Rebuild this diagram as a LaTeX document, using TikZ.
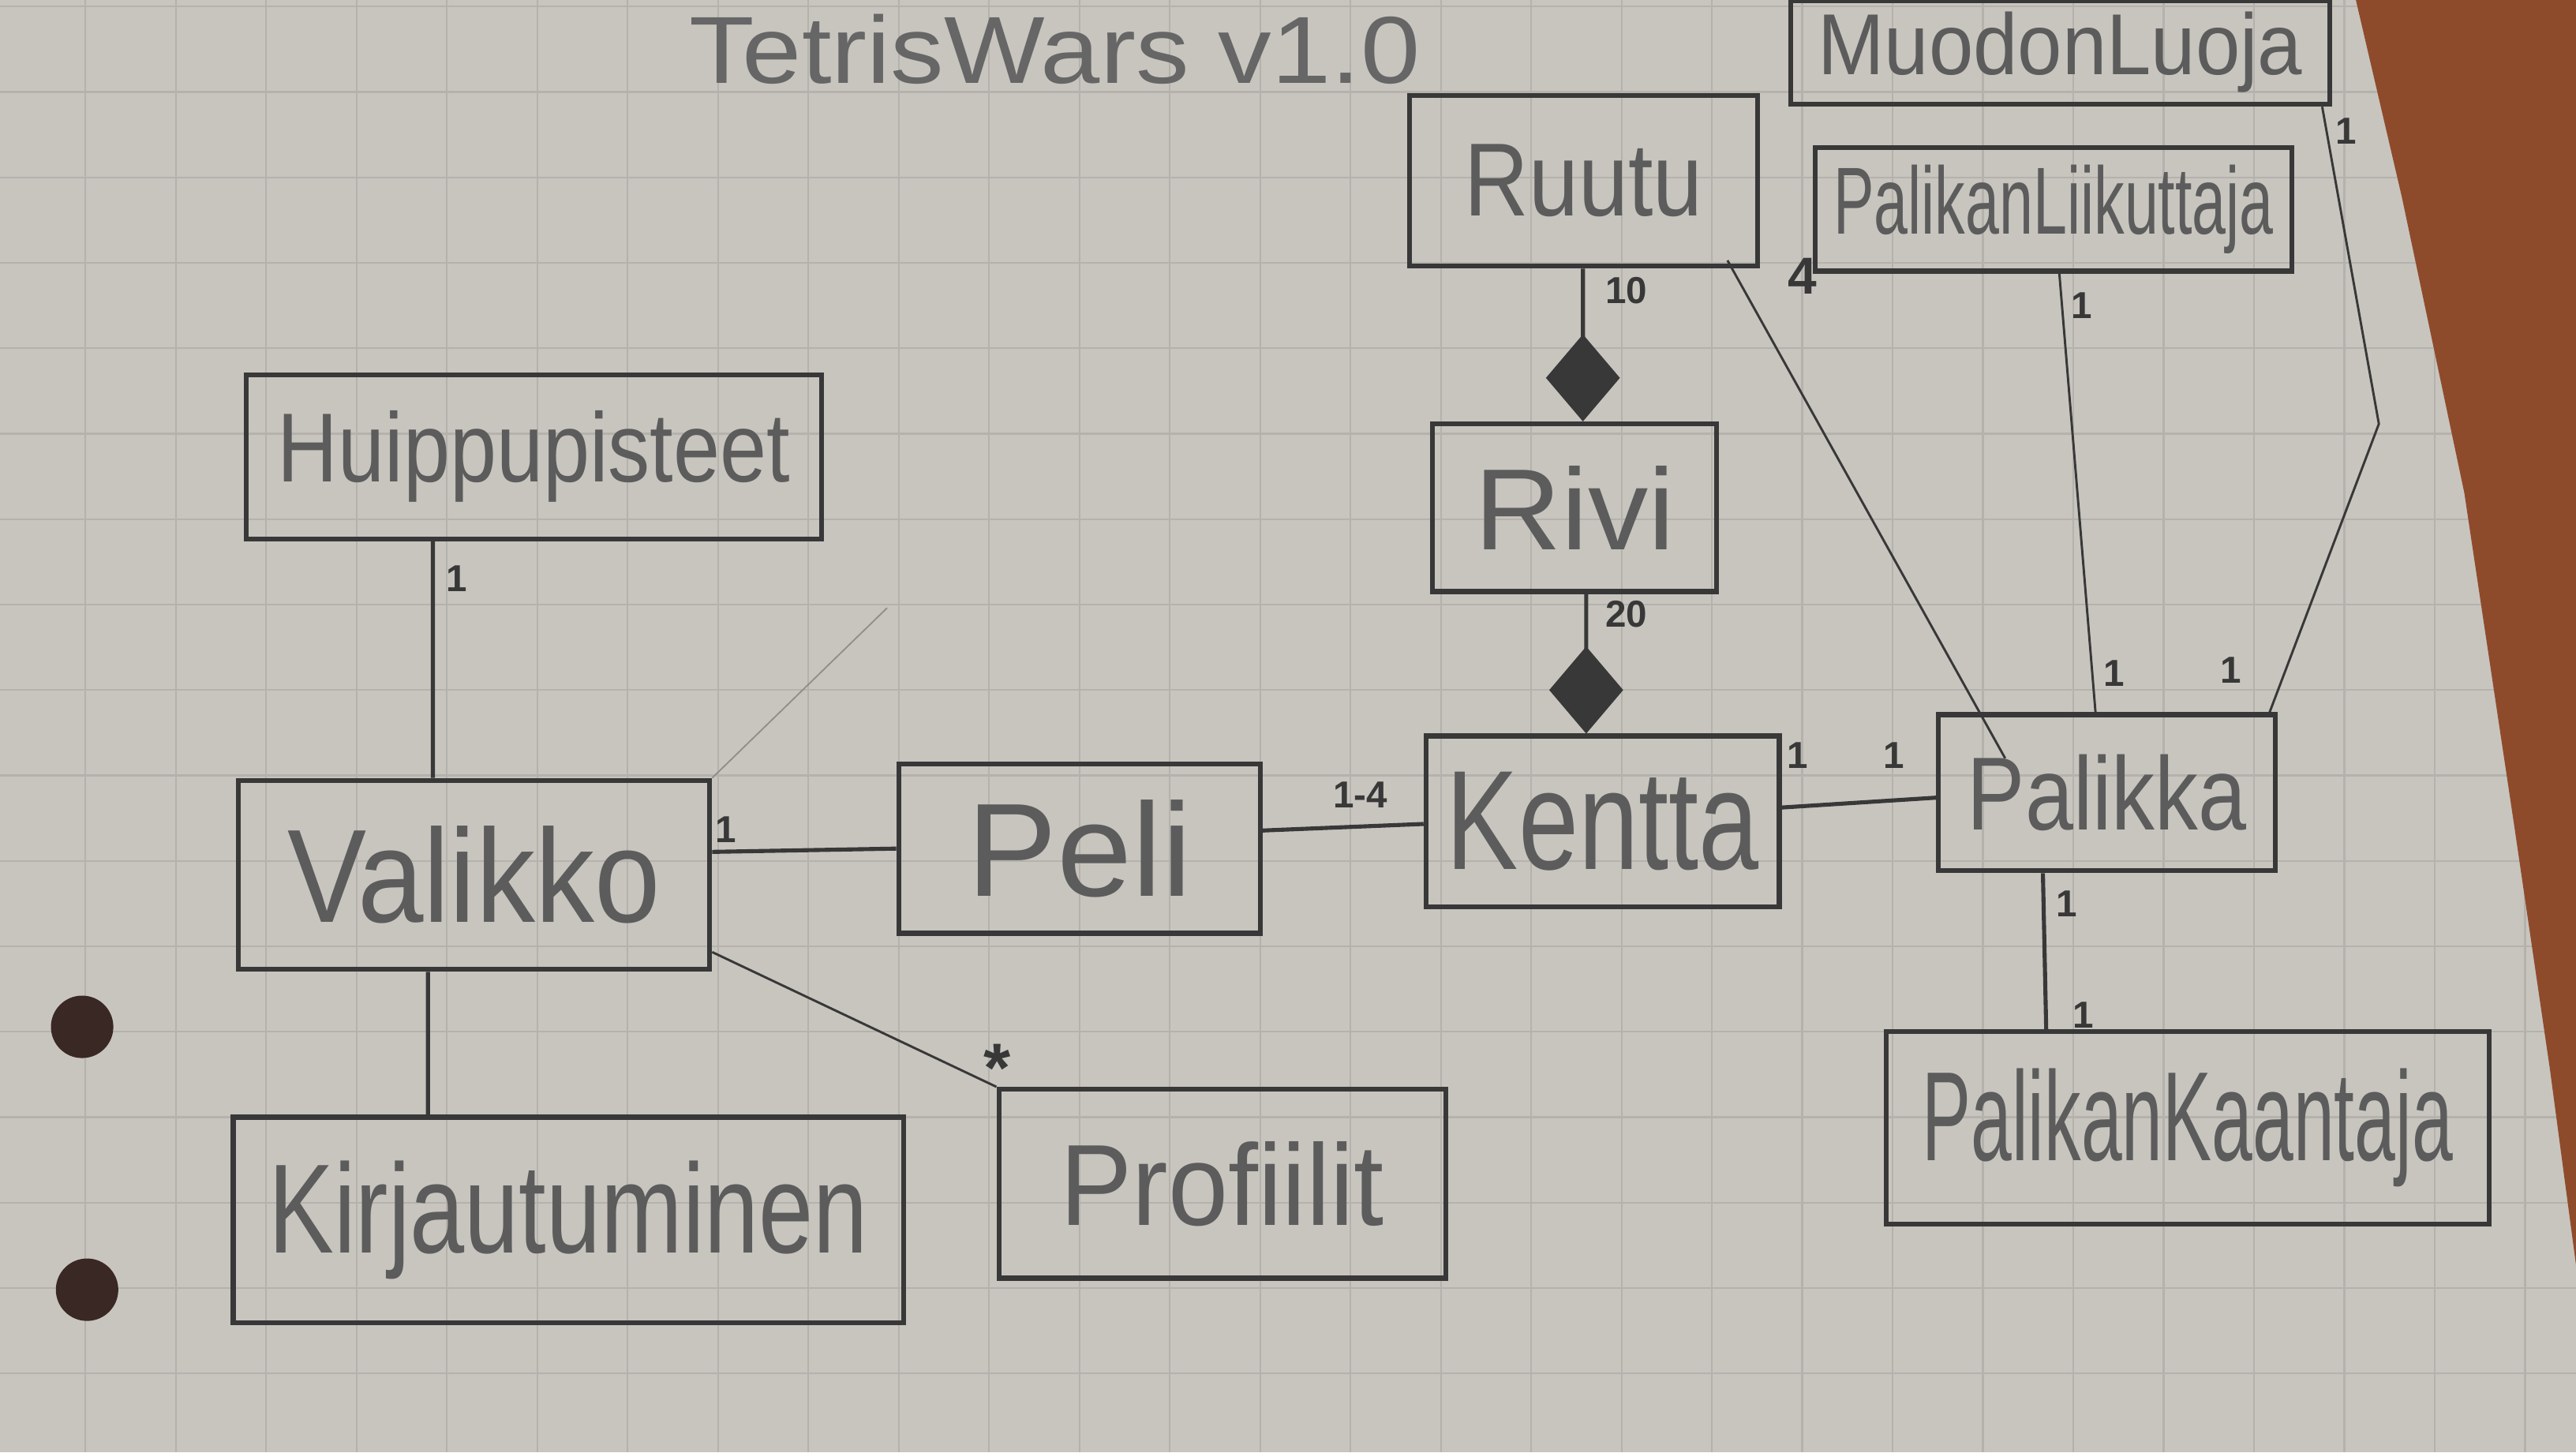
\documentclass[tikz,border=0pt]{standalone}
\usepackage{fontspec}
\setmainfont{Liberation Sans}
\usepackage{graphicx}
\usetikzlibrary{arrows.meta,calc}
\definecolor{paper}{HTML}{C8C5BF}
\definecolor{gridc}{HTML}{B5B2AD}
\definecolor{pencil}{HTML}{383838}
\definecolor{txtc}{HTML}{5C5C5C}
\definecolor{titlec}{HTML}{666666}
\definecolor{wood}{HTML}{8E4B2B}
\definecolor{hole}{HTML}{3A2824}
\newcommand\hw[3]{\resizebox{#2}{\height}{\fontsize{#1}{#1}\selectfont #3}}
\begin{document}
\begin{tikzpicture}[x=0.2mm,y=-0.2mm,
  box/.style={draw=pencil, line width=1.7pt, inner sep=0pt, text=txtc},
  conn/.style={draw=pencil, line width=1.4pt},
  thinconn/.style={draw=pencil, line width=0.8pt},
  mult/.style={text=pencil, font=\fontsize{13pt}{13pt}\selectfont\bfseries, inner sep=0pt}]
\useasboundingbox (0,0) rectangle (1568,884);
% paper and grid
\fill[paper] (0,0) rectangle (1568,884);
\foreach \i in {-8,...,21} \draw[gridc, line width=0.6pt] ({437+55*\i},0) -- ({437+55*\i},884);
\foreach \j in {-9,...,8} \draw[gridc, line width=0.6pt] (0,{472+52*\j}) -- (1568,{472+52*\j});
% wooden table at the right edge
\fill[wood] (1434,0) -- (1568,0) -- (1568,770) -- (1552,650) -- (1530,500) -- (1500,300) -- (1462,120) -- cycle;
% punched holes
\fill[hole] (50,625) circle (19);
\fill[hole] (53,785) circle (19);

% title
\node[text=titlec, inner sep=0pt] (title) at (642,30) {\hw{33pt}{89mm}{TetrisWars v1.0}};

% class boxes
\node[box, minimum width=65.6mm, minimum height=12.6mm] (muodon) at (1254,32) {\hw{30pt}{59mm}{MuodonLuoja}};
\node[box, minimum width=58mm, minimum height=15mm] (liik) at (1250,127.5) {\hw{33pt}{53.6mm}{PalikanLiikuttaja}};
\node[box, minimum width=42.4mm, minimum height=20.8mm] (ruutu) at (964,110) {\hw{36pt}{29mm}{Ruutu}};
\node[box, minimum width=34.6mm, minimum height=20.4mm] (rivi) at (958.5,309) {\hw{40pt}{24.4mm}{Rivi}};
\node[box, minimum width=43mm, minimum height=20.8mm] (kentta) at (975.5,500) {\hw{49pt}{38mm}{Kentta}};
\node[box, minimum width=41mm, minimum height=19mm] (palikka) at (1282.5,482.5) {\hw{36pt}{34mm}{Palikka}};
\node[box, minimum width=73.4mm, minimum height=23.4mm] (kaant) at (1331.5,686.5) {\hw{44pt}{64.6mm}{PalikanKaantaja}};
\node[box, minimum width=70mm, minimum height=20mm] (huip) at (325,278) {\hw{34pt}{62.4mm}{Huippupisteet}};
\node[box, minimum width=57.4mm, minimum height=23mm] (valikko) at (288.5,532.5) {\hw{46pt}{45.4mm}{Valikko}};
\node[box, minimum width=44mm, minimum height=20.6mm] (peli) at (657,516.5) {\hw{46pt}{27.4mm}{Peli}};
\node[box, minimum width=81.6mm, minimum height=25mm] (kirj) at (346,742.5) {\hw{44pt}{73mm}{Kirjautuminen}};
\node[box, minimum width=54.4mm, minimum height=23mm] (prof) at (744,720.5) {\hw{40pt}{39.4mm}{Profiilit}};

% connectors
\coordinate (faintend) at (540,370);
\draw[gridc!80!black, line width=0.5pt] (valikko.north east) -- (faintend);
\draw[conn] ($(huip.south west)+(115,0)$) -- ($(valikko.north west)+(120,0)$);
\draw[conn] ($(valikko.north east)+(0,45)$) -- ($(peli.north west)+(0,53)$);
\draw[conn] ($(valikko.south west)+(117,0)$) -- ($(kirj.north west)+(120,0)$);
\draw[thinconn] ($(valikko.south east)+(0,-12)$) -- (prof.north west);
\draw[conn] ($(peli.north east)+(0,42)$) -- ($(kentta.north west)+(0,55)$);
\draw[conn] ($(kentta.north east)+(0,45)$) -- ($(palikka.north west)+(0,52)$);
\draw[conn, {Diamond[length=10.6mm, width=9mm, fill=pencil]}-] ($(rivi.north west)+(93,0)$) -- ($(ruutu.south west)+(107,0)$);
\draw[conn, {Diamond[length=10.6mm, width=9mm, fill=pencil]}-] ($(kentta.north west)+(99,0)$) -- ($(rivi.south west)+(95,0)$);
\draw[thinconn] ($(ruutu.south east)+(-20,-5)$) -- ($(palikka.north west)+(42,28)$);
\draw[thinconn] ($(liik.south west)+(150,0)$) -- ($(palikka.north west)+(97,0)$);
\coordinate (mbend) at (1448,258);
\draw[thinconn] ($(muodon.south east)+(-6,0)$) -- (mbend) -- ($(palikka.north east)+(-5,0)$);
\draw[conn] ($(palikka.south west)+(65,0)$) -- ($(kaant.north west)+(99,0)$);

% multiplicities
\node[mult] (m1) at (278,352) {1};
\node[mult] (m2) at (442,505) {1};
\node[mult, font=\fontsize{24pt}{24pt}\selectfont\bfseries] (m3) at (607,650) {*};
\node[mult] (m4) at (828,484) {1-4};
\node[mult] (m5) at (1094,460) {1};
\node[mult] (m6) at (1153,460) {1};
\node[mult] (m7) at (990,177) {10};
\node[mult] (m8) at (990,374) {20};
\node[mult, font=\fontsize{18pt}{18pt}\selectfont\bfseries] (m9) at (1097,168) {4};
\node[mult] (m10) at (1267,186) {1};
\node[mult] (m11) at (1287,410) {1};
\node[mult] (m12) at (1428,80) {1};
\node[mult] (m13) at (1358,408) {1};
\node[mult] (m14) at (1258,550) {1};
\node[mult] (m15) at (1268,618) {1};
\end{tikzpicture}
\end{document}
